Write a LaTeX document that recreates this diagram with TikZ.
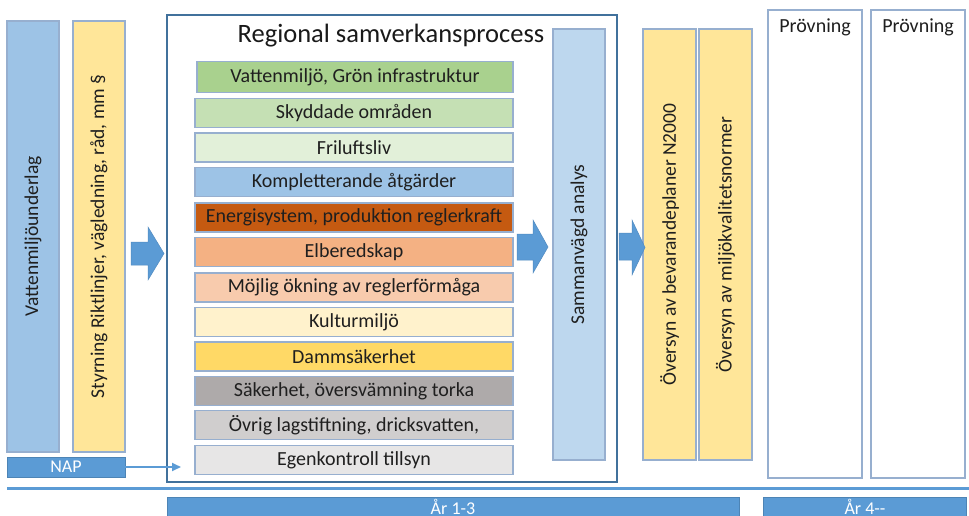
\documentclass[tikz,border=0pt]{standalone}
\usepackage{fontspec}
\setmainfont{Carlito}
\usetikzlibrary{arrows.meta}
\definecolor{cBlue}{HTML}{5B9BD5}
\definecolor{cFrame}{HTML}{41719C}
\definecolor{cEdge}{HTML}{97AFCF}
\definecolor{cVat}{HTML}{9DC3E6}
\definecolor{cYel}{HTML}{FFE699}
\definecolor{cSam}{HTML}{BDD7EE}
\definecolor{r1}{HTML}{A9D18E}
\definecolor{r2}{HTML}{C5E0B4}
\definecolor{r3}{HTML}{E2F0D9}
\definecolor{r4}{HTML}{9DC3E6}
\definecolor{r5}{HTML}{C55A11}
\definecolor{r6}{HTML}{F4B183}
\definecolor{r7}{HTML}{F8CBAD}
\definecolor{r8}{HTML}{FFF2CC}
\definecolor{r9}{HTML}{FFD966}
\definecolor{r10}{HTML}{AEAAAA}
\definecolor{r11}{HTML}{D0CECE}
\definecolor{r12}{HTML}{E7E6E6}
\begin{document}
\begin{tikzpicture}[x=1pt,y=-1pt,
  every node/.style={inner sep=0pt, outer sep=0pt},
  txt/.style={font=\fontsize{20}{23}\selectfont, text=black!88},
  vtxt/.style={font=\fontsize{19.5}{22}\selectfont, text=black!88},
  rowbox/.style={draw=cEdge, line width=1.3pt, minimum width=318pt, minimum height=29pt, txt},
  vbox/.style={draw=cEdge, line width=1.3pt, rotate=90, minimum width=431pt, minimum height=52pt, vtxt},
  pbox/.style={draw=cEdge, line width=1.3pt, minimum width=94pt, minimum height=468pt},
  bar/.style={fill=cBlue, draw=cBlue!85!black, line width=0.6pt, text=white, font=\fontsize{18}{21}\selectfont},
  bartxt/.style={text=white, font=\fontsize{18}{21}\selectfont},
  blockarrow/.style={fill=cBlue, draw=cBlue!90!black, line width=0.5pt}
]
\useasboundingbox (0,0) rectangle (969,516);
\clip (0,0) rectangle (969,516);

% left column
\node[vbox, fill=cVat] (vat) at (33,236.5) {Vattenmiljöunderlag};
\node[vbox, fill=cYel] (styr) at (99,236.5) {Styrning Riktlinjer, vägledning, råd, mm §};
\node[bar, minimum width=118pt, minimum height=20pt] (nap) at (66,467) {NAP};

% frame
\node[draw=cFrame, line width=2pt, minimum width=450pt, minimum height=467pt] (frame) at (392,248.5) {};
\node[font=\fontsize{26.5}{30}\selectfont, text=black!90] (title) at (391,36) {Regional samverkansprocess};

% rows
\node[rowbox, fill=r1, minimum width=316pt, minimum height=31pt] (row1) at (355,77) {Vattenmiljö, Grön infrastruktur};
\node[rowbox, fill=r2] (row2) at (354,113) {Skyddade områden};
\node[rowbox, fill=r3] (row3) at (354,147.5) {Friluftsliv};
\node[rowbox, fill=r4] (row4) at (354,182) {Kompletterande åtgärder};
\node[rowbox, fill=r5] (row5) at (354,217.5) {Energisystem, produktion reglerkraft};
\node[rowbox, fill=r6] (row6) at (354,252) {Elberedskap};
\node[rowbox, fill=r7] (row7) at (354,287.5) {Möjlig ökning av reglerförmåga};
\node[rowbox, fill=r8] (row8) at (354,322) {Kulturmiljö};
\node[rowbox, fill=r9] (row9) at (354,356.5) {Dammsäkerhet};
\node[rowbox, fill=r10] (row10) at (354,391) {Säkerhet, översvämning torka};
\node[rowbox, fill=r11] (row11) at (354,425) {Övrig lagstiftning, dricksvatten,};
\node[rowbox, fill=r12] (row12) at (354,460) {Egenkontroll tillsyn};

% right part
\node[vbox, fill=cSam] (samm) at (579,244.5) {Sammanvägd analys};
\node[vbox, fill=cYel, minimum height=53pt] (n2000) at (669.5,244.5) {Översyn av bevarandeplaner N2000};
\node[vbox, fill=cYel, minimum height=53pt] (mkn) at (725.5,244.5) {Översyn av miljökvalitetsnormer};

\node[pbox] (p1) at (815,244) {};
\node[pbox] (p2) at (918,244) {};
\node[txt] (p1t) at (815,27) {Prövning};
\node[txt] (p2t) at (918,27) {Prövning};

% block arrows
\draw[blockarrow] (131,242)--(148,242)--(148,227)--(164,253.5)--(148,280)--(148,265)--(131,265)--cycle;
\draw[blockarrow] (517,234)--(533,234)--(533,220)--(548,247)--(533,273)--(533,260)--(517,260)--cycle;
\draw[blockarrow] (619,233)--(632,233)--(632,220)--(645,247.5)--(632,275)--(632,260)--(619,260)--cycle;

% NAP connector
\coordinate (napend) at (181,467);
\draw[cBlue, line width=2pt, -{Triangle[length=9pt,width=8pt]}] (nap.east) -- (napend);

% time line
\coordinate (tlA) at (7,488.5);
\coordinate (tlB) at (969,488.5);
\draw[cBlue, line width=3pt] (tlA) -- (tlB);

% year bars
\node[bar, minimum width=572pt, minimum height=26pt] (ar13) at (453,510) {};
\node[bartxt] (ar13t) at (453,507) {År 1-3};
\node[bar, minimum width=203pt, minimum height=26pt] (ar4) at (864.5,510) {};
\node[bartxt] (ar4t) at (865,507) {År 4-{}-};
\end{tikzpicture}
\end{document}
